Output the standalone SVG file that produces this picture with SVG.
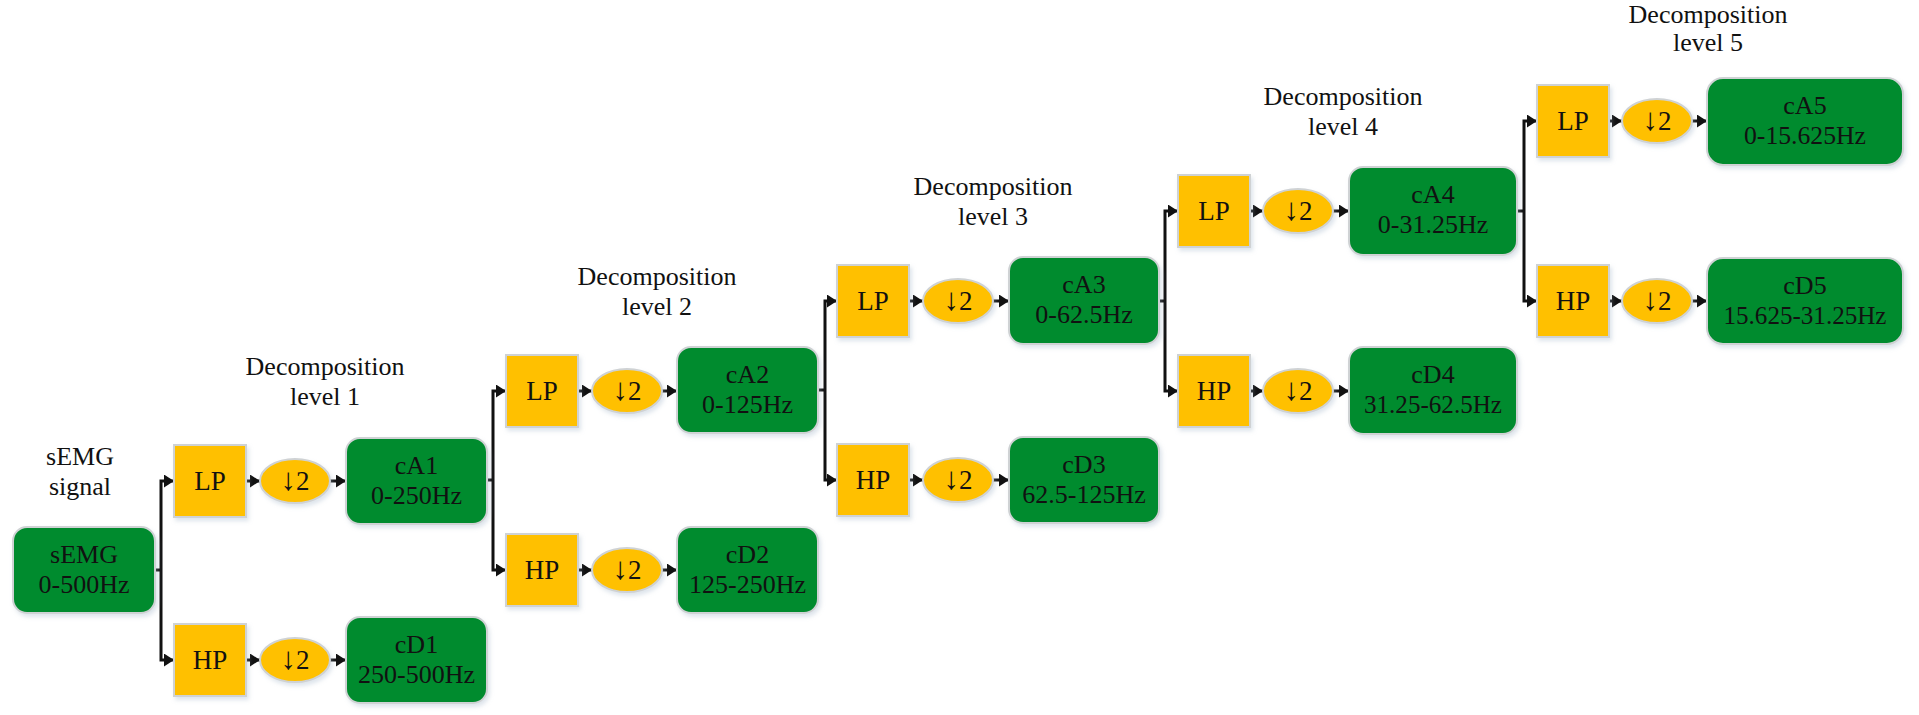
<svg xmlns="http://www.w3.org/2000/svg" width="1919" height="715" viewBox="0 0 1919 715">
<style>
text{font-family:"Liberation Serif","Times New Roman",serif;font-size:26px;fill:#111;text-anchor:middle}
.s{font-size:27px}
.a{font-size:31px}
.g{fill:#008B2E;stroke:#cfd2d4;stroke-width:2}
.f{fill:#FFC000;stroke:#cfd2d4;stroke-width:2}
.c{fill:none;stroke:#111;stroke-width:3}
</style>
<defs>
<marker id="ah" markerUnits="userSpaceOnUse" markerWidth="10" markerHeight="13" viewBox="0 0 10 13" refX="10" refY="6.5" orient="auto">
<path d="M0,0 L10,6.5 L0,13 z" fill="#111"/>
</marker>
<filter id="sh" x="-10%" y="-10%" width="125%" height="130%">
<feDropShadow dx="2" dy="3" stdDeviation="2" flood-color="#9fb3c8" flood-opacity="0.35"/>
</filter>
</defs>
<rect width="1919" height="715" fill="#fff"/>

<g id="labels">
<text x="80" y="465">sEMG</text><text x="80" y="495">signal</text>
<text x="325" y="375">Decomposition</text><text x="325" y="405">level 1</text>
<text x="657" y="285">Decomposition</text><text x="657" y="315">level 2</text>
<text x="993" y="195">Decomposition</text><text x="993" y="225">level 3</text>
<text x="1343" y="105">Decomposition</text><text x="1343" y="135">level 4</text>
<text x="1708" y="23">Decomposition</text><text x="1708" y="51">level 5</text>
</g>

<g id="connectors">
<path class="c" d="M155,570 H161"/>
<path class="c" d="M161,570 V481 H174" marker-end="url(#ah)"/>
<path class="c" d="M161,570 V660 H174" marker-end="url(#ah)"/>
<path class="c" d="M246,481 H260" marker-end="url(#ah)"/>
<path class="c" d="M330,481 H346" marker-end="url(#ah)"/>
<path class="c" d="M246,660 H260" marker-end="url(#ah)"/>
<path class="c" d="M330,660 H346" marker-end="url(#ah)"/>

<path class="c" d="M487,480 H493"/>
<path class="c" d="M493,480 V391 H506" marker-end="url(#ah)"/>
<path class="c" d="M493,480 V570 H506" marker-end="url(#ah)"/>
<path class="c" d="M578,391 H592" marker-end="url(#ah)"/>
<path class="c" d="M662,391 H677" marker-end="url(#ah)"/>
<path class="c" d="M578,570 H592" marker-end="url(#ah)"/>
<path class="c" d="M662,570 H677" marker-end="url(#ah)"/>

<path class="c" d="M818,390 H825"/>
<path class="c" d="M825,390 V301 H837" marker-end="url(#ah)"/>
<path class="c" d="M825,390 V480 H837" marker-end="url(#ah)"/>
<path class="c" d="M909,301 H923" marker-end="url(#ah)"/>
<path class="c" d="M993,301 H1009" marker-end="url(#ah)"/>
<path class="c" d="M909,480 H923" marker-end="url(#ah)"/>
<path class="c" d="M993,480 H1009" marker-end="url(#ah)"/>

<path class="c" d="M1159,301 H1165"/>
<path class="c" d="M1165,301 V211 H1178" marker-end="url(#ah)"/>
<path class="c" d="M1165,301 V391 H1178" marker-end="url(#ah)"/>
<path class="c" d="M1250,211 H1263" marker-end="url(#ah)"/>
<path class="c" d="M1333,211 H1349" marker-end="url(#ah)"/>
<path class="c" d="M1250,391 H1263" marker-end="url(#ah)"/>
<path class="c" d="M1333,391 H1349" marker-end="url(#ah)"/>

<path class="c" d="M1517,211 H1524"/>
<path class="c" d="M1524,211 V121 H1537" marker-end="url(#ah)"/>
<path class="c" d="M1524,211 V301 H1537" marker-end="url(#ah)"/>
<path class="c" d="M1609,121 H1622" marker-end="url(#ah)"/>
<path class="c" d="M1692,121 H1707" marker-end="url(#ah)"/>
<path class="c" d="M1609,301 H1622" marker-end="url(#ah)"/>
<path class="c" d="M1692,301 H1707" marker-end="url(#ah)"/>
</g>

<g id="sEMG"><rect class="g" filter="url(#sh)" x="13" y="527" width="142" height="86" rx="14"/><text x="84" y="563">sEMG</text><text x="84" y="593">0-500Hz</text></g>

<g id="LP1"><rect class="f" filter="url(#sh)" x="174" y="445" width="72" height="72"/><text class="s" x="210" y="490">LP</text></g>
<g id="DS1a"><ellipse class="f" filter="url(#sh)" cx="295" cy="481" rx="35" ry="22"/><text class="s" x="295" y="490"><tspan class="a">↓</tspan>2</text></g>
<g id="cA1"><rect class="g" filter="url(#sh)" x="346" y="438" width="141" height="86" rx="14"/><text x="416.5" y="474">cA1</text><text x="416.5" y="504">0-250Hz</text></g>
<g id="HP1"><rect class="f" filter="url(#sh)" x="174" y="624" width="72" height="72"/><text class="s" x="210" y="669">HP</text></g>
<g id="DS1d"><ellipse class="f" filter="url(#sh)" cx="295" cy="660" rx="35" ry="22"/><text class="s" x="295" y="669"><tspan class="a">↓</tspan>2</text></g>
<g id="cD1"><rect class="g" filter="url(#sh)" x="346" y="617" width="141" height="86" rx="14"/><text x="416.5" y="653">cD1</text><text x="416.5" y="683">250-500Hz</text></g>

<g id="LP2"><rect class="f" filter="url(#sh)" x="506" y="355" width="72" height="72"/><text class="s" x="542" y="400">LP</text></g>
<g id="DS2a"><ellipse class="f" filter="url(#sh)" cx="627" cy="391" rx="35" ry="22"/><text class="s" x="627" y="400"><tspan class="a">↓</tspan>2</text></g>
<g id="cA2"><rect class="g" filter="url(#sh)" x="677" y="347" width="141" height="86" rx="14"/><text x="747.5" y="383">cA2</text><text x="747.5" y="413">0-125Hz</text></g>
<g id="HP2"><rect class="f" filter="url(#sh)" x="506" y="534" width="72" height="72"/><text class="s" x="542" y="579">HP</text></g>
<g id="DS2d"><ellipse class="f" filter="url(#sh)" cx="627" cy="570" rx="35" ry="22"/><text class="s" x="627" y="579"><tspan class="a">↓</tspan>2</text></g>
<g id="cD2"><rect class="g" filter="url(#sh)" x="677" y="527" width="141" height="86" rx="14"/><text x="747.5" y="563">cD2</text><text x="747.5" y="593">125-250Hz</text></g>

<g id="LP3"><rect class="f" filter="url(#sh)" x="837" y="265" width="72" height="72"/><text class="s" x="873" y="310">LP</text></g>
<g id="DS3a"><ellipse class="f" filter="url(#sh)" cx="958" cy="301" rx="35" ry="22"/><text class="s" x="958" y="310"><tspan class="a">↓</tspan>2</text></g>
<g id="cA3"><rect class="g" filter="url(#sh)" x="1009" y="257" width="150" height="87" rx="14"/><text x="1084" y="293">cA3</text><text x="1084" y="323">0-62.5Hz</text></g>
<g id="HP3"><rect class="f" filter="url(#sh)" x="837" y="444" width="72" height="72"/><text class="s" x="873" y="489">HP</text></g>
<g id="DS3d"><ellipse class="f" filter="url(#sh)" cx="958" cy="480" rx="35" ry="22"/><text class="s" x="958" y="489"><tspan class="a">↓</tspan>2</text></g>
<g id="cD3"><rect class="g" filter="url(#sh)" x="1009" y="437" width="150" height="86" rx="14"/><text x="1084" y="473">cD3</text><text x="1084" y="503">62.5-125Hz</text></g>

<g id="LP4"><rect class="f" filter="url(#sh)" x="1178" y="175" width="72" height="72"/><text class="s" x="1214" y="220">LP</text></g>
<g id="DS4a"><ellipse class="f" filter="url(#sh)" cx="1298" cy="211" rx="35" ry="22"/><text class="s" x="1298" y="220"><tspan class="a">↓</tspan>2</text></g>
<g id="cA4"><rect class="g" filter="url(#sh)" x="1349" y="167" width="168" height="88" rx="14"/><text x="1433" y="203">cA4</text><text x="1433" y="233">0-31.25Hz</text></g>
<g id="HP4"><rect class="f" filter="url(#sh)" x="1178" y="355" width="72" height="72"/><text class="s" x="1214" y="400">HP</text></g>
<g id="DS4d"><ellipse class="f" filter="url(#sh)" cx="1298" cy="391" rx="35" ry="22"/><text class="s" x="1298" y="400"><tspan class="a">↓</tspan>2</text></g>
<g id="cD4"><rect class="g" filter="url(#sh)" x="1349" y="347" width="168" height="87" rx="14"/><text x="1433" y="383">cD4</text><text x="1433" y="413" textLength="138" lengthAdjust="spacingAndGlyphs">31.25-62.5Hz</text></g>

<g id="LP5"><rect class="f" filter="url(#sh)" x="1537" y="85" width="72" height="72"/><text class="s" x="1573" y="130">LP</text></g>
<g id="DS5a"><ellipse class="f" filter="url(#sh)" cx="1657" cy="121" rx="35" ry="22"/><text class="s" x="1657" y="130"><tspan class="a">↓</tspan>2</text></g>
<g id="cA5"><rect class="g" filter="url(#sh)" x="1707" y="78" width="196" height="87" rx="16"/><text x="1805" y="114">cA5</text><text x="1805" y="144" textLength="122" lengthAdjust="spacingAndGlyphs">0-15.625Hz</text></g>
<g id="HP5"><rect class="f" filter="url(#sh)" x="1537" y="265" width="72" height="72"/><text class="s" x="1573" y="310">HP</text></g>
<g id="DS5d"><ellipse class="f" filter="url(#sh)" cx="1657" cy="301" rx="35" ry="22"/><text class="s" x="1657" y="310"><tspan class="a">↓</tspan>2</text></g>
<g id="cD5"><rect class="g" filter="url(#sh)" x="1707" y="258" width="196" height="86" rx="16"/><text x="1805" y="294">cD5</text><text x="1805" y="324" textLength="163" lengthAdjust="spacingAndGlyphs">15.625-31.25Hz</text></g>
</svg>
